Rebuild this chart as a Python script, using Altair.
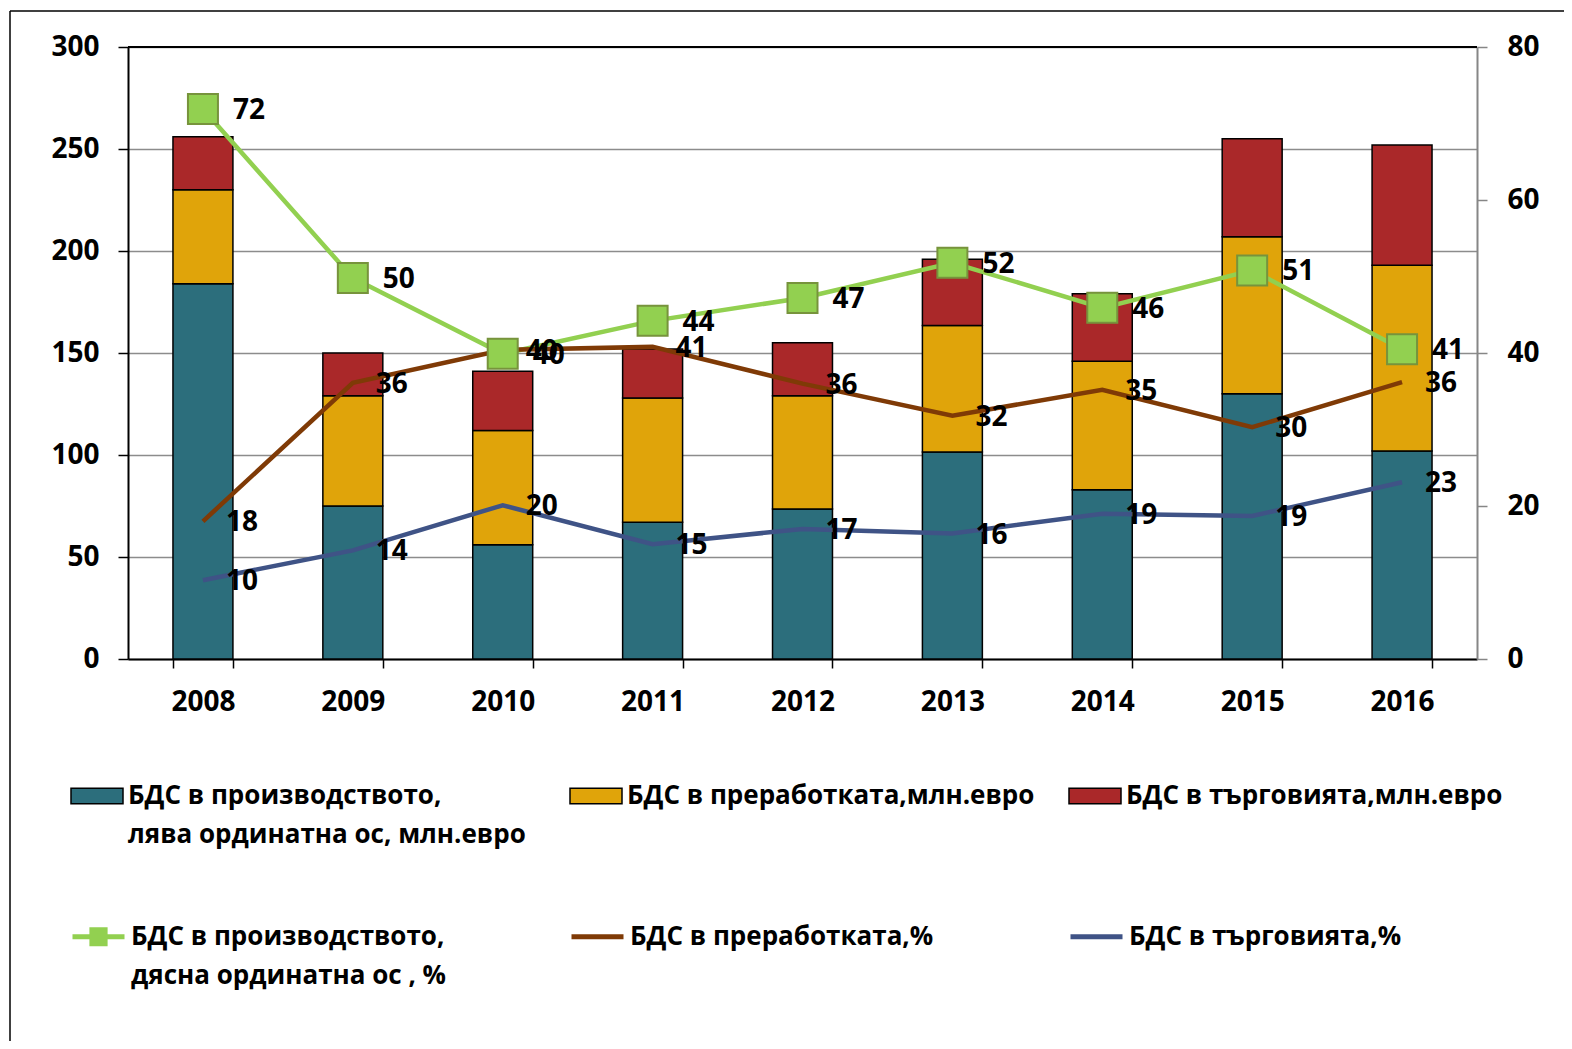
import altair as alt
import pandas as pd

FONT = "Open Sans"
FS = 28

years = ["2008", "2009", "2010", "2011", "2012", "2013", "2014", "2015", "2016"]

# stacked bars, left axis (млн. евро)
prod_mln = [184, 75, 56, 67, 73.5, 101.5, 83, 130, 102]
proc_mln = [46, 54, 56, 61, 55.5, 62, 63, 77, 91]
trade_mln = [26, 21, 29, 24, 26, 32.5, 33, 48, 59]

# lines, right axis (%)
prod_pct = [71.9, 49.8, 39.9, 44.2, 47.2, 51.8, 45.9, 50.8, 40.5]
proc_pct = [18.0, 36.1, 40.4, 40.8, 36.0, 31.8, 35.2, 30.3, 36.2]
trade_pct = [10.3, 14.2, 20.1, 15.0, 17.0, 16.4, 19.0, 18.7, 23.1]

bar_series = [
    "БДС в производството,|лява ординатна ос, млн.евро",
    "БДС в преработката,млн.евро",
    "БДС в търговията,млн.евро",
]
line_series = [
    "БДС в производството,|дясна ординатна ос , %",
    "БДС в преработката,%",
    "БДС в търговията,%",
]
bar_colors = ["#2c6e7c", "#e0a40a", "#aa2829"]
line_colors = ["#92d050", "#7f3a06", "#3f5386"]

rows = []
for k, (s, vals) in enumerate(zip(bar_series, [prod_mln, proc_mln, trade_mln])):
    for y, v in zip(years, vals):
        rows.append({"year": y, "series": s, "value": v, "order": k})
bars_df = pd.DataFrame(rows)

rows = []
for k, (s, vals) in enumerate(zip(line_series, [prod_pct, proc_pct, trade_pct])):
    for y, v in zip(years, vals):
        rows.append({"year": y, "series": s, "value": v, "order": k})
lines_df = pd.DataFrame(rows)

LINE_PATH = "M-1,0H1"
GREEN_PATH = ("M-1,0H1M-0.35,-0.27H0.35M-0.35,-0.09H0.35"
              "M-0.35,0.09H0.35M-0.35,0.27H0.35")

common_legend = dict(
    orient="none", legendX=-58, columns=3, title=None,
    labelFont=FONT, labelFontSize=26, labelFontWeight="bold", labelColor="black",
    labelLimit=1000, labelOffset=4, symbolSize=2704, gridAlign="all",
    rowPadding=0, padding=0,
    labelExpr="indexof(datum.label, '|') >= 0 ? split(datum.label, '|') : [datum.label, '']",
)
bar_legend = alt.Legend(legendY=722, symbolType="M-1,-0.3H1V0.3H-1Z",
                        symbolStrokeColor="black", symbolStrokeWidth=1.5,
                        columnPadding=31, **common_legend)
line_legend = alt.Legend(legendY=861, symbolStrokeWidth=5, symbolOpacity=1,
                         columnPadding=114, **common_legend)

x_enc = alt.X(
    "year:N", sort=years, title=None,
    scale=alt.Scale(paddingInner=0.6, paddingOuter=0.3),
    axis=alt.Axis(labelAngle=0, tickBand="extent", tickSize=9, tickColor="black",
                  tickWidth=1.5, domainColor="black", domainWidth=2, labelPadding=20,
                  labelFont=FONT, labelFontSize=FS, labelFontWeight="bold",
                  labelColor="black", grid=False),
)

bars = alt.Chart(bars_df).mark_bar(stroke="black", strokeWidth=1.5).encode(
    x=x_enc,
    y=alt.Y("value:Q", stack="zero", title=None,
            scale=alt.Scale(domain=[0, 300], nice=False),
            axis=alt.Axis(orient="left", values=[0, 50, 100, 150, 200, 250, 300],
                          grid=True, gridColor="#8c8c8c", gridWidth=1.5,
                          domainColor="black", domainWidth=2, tickColor="black",
                          tickWidth=1.5, tickSize=10, labelPadding=19,
                          labelFont=FONT, labelFontSize=FS, labelFontWeight="bold",
                          labelColor="black")),
    fill=alt.Fill("series:N", scale=alt.Scale(domain=bar_series, range=bar_colors),
                  legend=bar_legend),
    order=alt.Order("order:Q", sort="ascending"),
)

y_right = alt.Y("value:Q", title=None, scale=alt.Scale(domain=[0, 80], nice=False),
                axis=alt.Axis(orient="right", values=[0, 20, 40, 60, 80], grid=False,
                              domainColor="#868686", domainWidth=2, tickColor="#868686",
                              tickWidth=1.5, tickSize=10, labelPadding=20,
                              labelFont=FONT, labelFontSize=FS, labelFontWeight="bold",
                              labelColor="black"))

stroke_scale = alt.Scale(domain=line_series, range=line_colors)
shape_scale = alt.Scale(domain=line_series, range=[GREEN_PATH, LINE_PATH, LINE_PATH])

lines = alt.Chart(lines_df).mark_line(strokeWidth=4.5).encode(
    x=x_enc,
    y=y_right,
    stroke=alt.Stroke("series:N", scale=stroke_scale, legend=line_legend),
)

# legend-only layer carrying the symbol shapes (no rows drawn)
ghost = alt.Chart(lines_df).transform_filter("false").mark_point(opacity=1).encode(
    x=x_enc, y=y_right,
    shape=alt.Shape("series:N", scale=shape_scale, legend=line_legend),
)

points = alt.Chart(lines_df).transform_filter(
    alt.datum.order == 0
).mark_point(shape="square", size=900, filled=True, fill="#92d050",
             stroke="#77933c", strokeWidth=2, opacity=1).encode(
    x=x_enc, y=y_right,
)

labels_green = alt.Chart(lines_df).transform_filter(
    alt.datum.order == 0
).mark_text(align="left", baseline="middle", dx=30, dy=2, font=FONT,
            fontSize=FS, fontWeight="bold", color="black").encode(
    x=x_enc, y=y_right, text=alt.Text("value:Q", format=".0f"),
)

labels_other = alt.Chart(lines_df).transform_filter(
    alt.datum.order > 0
).mark_text(align="left", baseline="middle", dx=23, dy=2, font=FONT,
            fontSize=FS, fontWeight="bold", color="black").encode(
    x=x_enc, y=y_right, text=alt.Text("value:Q", format=".0f"),
)

right = alt.layer(lines, ghost, points, labels_green, labels_other)

frame_df = pd.DataFrame({"k": [0]})
frame_left = alt.Chart(frame_df).mark_rule(color="black", strokeWidth=1.5).encode(
    x=alt.value(-118), y=alt.value(-36), y2=alt.value(1010))
frame_top = alt.Chart(frame_df).mark_rule(color="black", strokeWidth=1.5).encode(
    x=alt.value(-118), x2=alt.value(1450), y=alt.value(-36))
plot_top = alt.Chart(frame_df).mark_rule(color="black", strokeWidth=2).encode(
    x=alt.value(0), x2=alt.value(1349), y=alt.value(0))

chart = alt.layer(bars, right, frame_left, frame_top, plot_top).resolve_scale(
    y="independent"
).properties(
    width=1349, height=612,
    autosize=alt.AutoSizeParams(type="none"),
    padding={"left": 120, "top": 39, "right": 87, "bottom": 382},
).configure(
    background="white",
    style={"guide-label": {"lineHeight": 39}},
).configure_view(strokeWidth=0)

chart.save("out.html", embed_options={"renderer": "svg", "actions": False})
